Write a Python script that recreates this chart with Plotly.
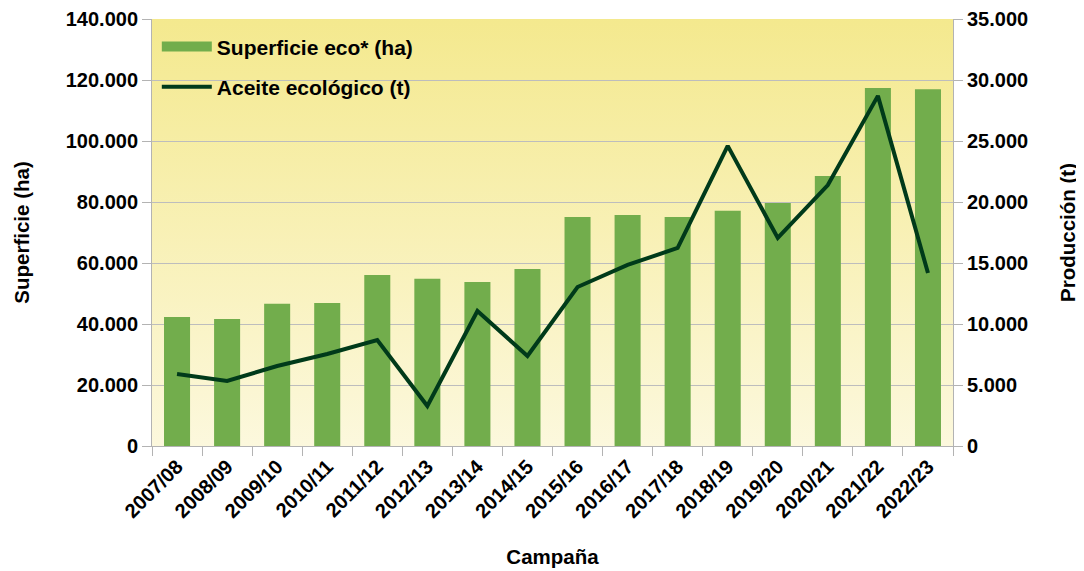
import base64
import plotly.graph_objects as go

campanas = ["2007/08", "2008/09", "2009/10", "2010/11", "2011/12", "2012/13",
            "2013/14", "2014/15", "2015/16", "2016/17", "2017/18", "2018/19",
            "2019/20", "2020/21", "2021/22", "2022/23"]

superficie_ha = [42300, 41600, 46600, 46900, 56100, 54800, 53800, 58000,
                 75100, 75700, 75100, 77100, 79700, 88500, 117400, 117000]

aceite_t = [5900, 5330, 6560, 7540, 8690, 3280, 11070, 7380,
            13030, 14840, 16230, 24600, 17050, 21390, 28700, 14180]

font_family = "Liberation Sans, Arial, sans-serif"
bar_green = "#72ad4c"
line_green = "#003a1a"

# gradient background for the plot area (drawn under the gridlines)
svg = (
    '<svg xmlns="http://www.w3.org/2000/svg" width="100" height="100" preserveAspectRatio="none">'
    '<defs><linearGradient id="g" x1="0" y1="0" x2="0" y2="1">'
    '<stop offset="0" stop-color="#f4e98e"/><stop offset="1" stop-color="#fcf8dd"/>'
    '</linearGradient></defs><rect width="100" height="100" fill="url(#g)"/></svg>'
)
bg_src = "data:image/svg+xml;base64," + base64.b64encode(svg.encode()).decode()

fig = go.Figure()

fig.add_trace(
    go.Bar(
        x=campanas,
        y=superficie_ha,
        name="Superficie eco* (ha)",
        marker=dict(color=bar_green, line=dict(width=0)),
        width=0.52,
        showlegend=False,
    )
)

# legend entry for the bars, drawn as a thick line so it looks like a wide block
fig.add_trace(
    go.Scatter(
        x=[None],
        y=[None],
        mode="lines",
        name="Superficie eco* (ha)",
        line=dict(color=bar_green, width=15),
        legendgroup="a",
    )
)

fig.add_trace(
    go.Scatter(
        x=campanas,
        y=aceite_t,
        mode="lines",
        name="Aceite ecológico (t)",
        line=dict(color=line_green, width=4),
        yaxis="y2",
        legendgroup="b",
    )
)

# page body has an 8px margin, so the figure is a bit smaller than the window
fig.update_layout(
    width=1076,
    height=563,
    margin=dict(l=144, r=131, t=11, b=125),
    paper_bgcolor="white",
    plot_bgcolor="rgba(0,0,0,0)",
    separators=",.",
    font=dict(family=font_family, size=20, color="black", weight="bold"),
    showlegend=True,
    legend=dict(
        x=0.006, y=0.983, xanchor="left", yanchor="top",
        bgcolor="rgba(0,0,0,0)",
        font=dict(size=21, weight="bold"),
        itemwidth=50,
        tracegroupgap=10,
    ),
    images=[dict(
        source=bg_src, xref="x domain", yref="y domain",
        x=0, y=1, sizex=1, sizey=1, sizing="stretch", layer="below",
    )],
    xaxis=dict(
        type="category",
        tickson="boundaries",
        ticks="outside",
        ticklen=9,
        tickcolor="#b3b3b3",
        tickangle=-45,
        showline=True,
        linecolor="#b3b3b3",
        showgrid=False,
        automargin=False,
        range=[-0.5, 15.5],
        title=dict(text="Campaña", font=dict(size=20.5, weight="bold"), standoff=28),
    ),
    yaxis=dict(
        range=[0, 140000],
        dtick=20000,
        tickformat=",",
        ticks="outside",
        ticklen=9,
        tickcolor="#b3b3b3",
        showline=True,
        linecolor="#b3b3b3",
        gridcolor="#bdbdbd",
        zeroline=False,
        automargin=False,
        title=dict(text="Superficie (ha)", font=dict(size=20.5, weight="bold"), standoff=30),
    ),
    yaxis2=dict(
        overlaying="y",
        side="right",
        range=[0, 35000],
        dtick=5000,
        tickformat=",",
        ticks="outside",
        ticklen=9,
        tickcolor="#b3b3b3",
        showline=True,
        linecolor="#b3b3b3",
        showgrid=False,
        zeroline=False,
        automargin=False,
        title=dict(text="Producción (t)", font=dict(size=20.5, weight="bold"), standoff=33),
    ),
)

fig.write_html("out.html")
